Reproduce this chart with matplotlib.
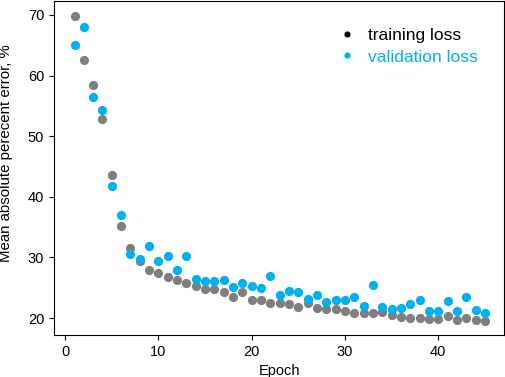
import matplotlib
matplotlib.use("Agg")
import matplotlib.pyplot as plt
from matplotlib.lines import Line2D

plt.rcParams['font.family'] = ['Liberation Sans', 'DejaVu Sans']

epochs = list(range(1, 46))
training_loss = [69.8, 62.5, 58.4, 52.8, 43.6, 35.2, 31.6, 29.4, 27.9, 27.4,
                 26.8, 26.25, 25.75, 25.3, 24.8, 24.8, 24.3, 23.55, 24.3, 23.0,
                 22.9, 22.4, 22.4, 22.35, 21.8, 22.45, 21.6, 21.5, 21.5, 21.1,
                 20.9, 20.8, 20.8, 21.0, 20.5, 20.2, 20.0, 20.0, 19.9, 19.8,
                 20.4, 19.75, 20.0, 19.65, 19.55]
validation_loss = [65.0, 68.0, 56.4, 54.35, 41.7, 37.0, 30.5, 29.8, 31.9, 29.4,
                   30.2, 28.0, 30.25, 26.4, 26.1, 26.1, 26.2, 25.1, 25.85, 25.25,
                   24.9, 26.9, 23.8, 24.5, 24.3, 23.2, 23.8, 22.7, 22.95, 22.95,
                   23.4, 22.0, 25.4, 21.9, 21.5, 21.6, 22.35, 23.0, 21.1, 21.15,
                   22.8, 21.2, 23.45, 21.3, 20.75]

gray = '#7f7f7f'
blue = '#00b0f0'

fig = plt.figure(figsize=(5.05, 3.77), dpi=100)
ax = fig.add_axes([54/505, 42/377, 450/505, 334/377])
ax.scatter(epochs, training_loss, s=44, color=gray, linewidths=0, zorder=2)
ax.scatter(epochs, validation_loss, s=44, color=blue, linewidths=0, zorder=3)

ax.set_xlim(-1.2, 47.05)
ax.set_ylim(17.2, 72.3)
ax.set_xticks([0, 10, 20, 30, 40])
ax.set_yticks([20, 30, 40, 50, 60, 70])
ax.tick_params(labelsize=10.5)
ax.set_xlabel('Epoch', fontsize=10.5)
ax.set_ylabel('Mean absolute perecent error, %', fontsize=10.8)
ax.yaxis.set_label_coords(-0.09, 0.545)

handles = [Line2D([], [], linestyle='none', marker='o', markersize=3.4, color='black'),
           Line2D([], [], linestyle='none', marker='o', markersize=3.4, color=blue)]
leg = ax.legend(handles, ['training loss', 'validation loss'], frameon=False,
                fontsize=12.5, loc='upper left',
                bbox_to_anchor=((338.5-54)/450, (377-42-28)/334),
                handlelength=1.0, handletextpad=0.68, labelspacing=0.36,
                borderpad=0, borderaxespad=0)
leg.get_texts()[0].set_color('black')
leg.get_texts()[1].set_color(blue)

fig.savefig('out.png', dpi=100)
